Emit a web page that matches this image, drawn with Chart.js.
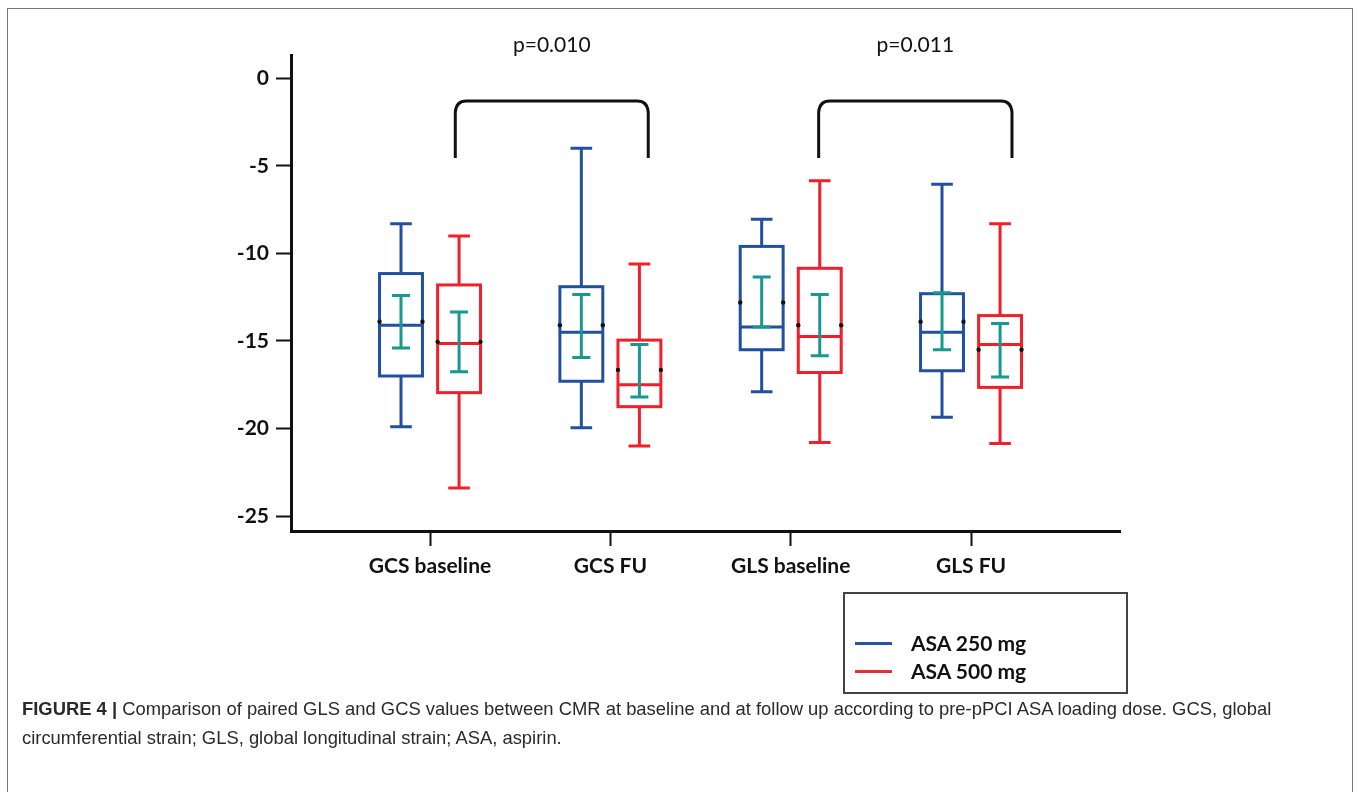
<!DOCTYPE html>
<html>
<head>
<meta charset="utf-8">
<script src="https://cdn.jsdelivr.net/npm/chart.js@4.4.1/dist/chart.umd.min.js"></script>
<style>
  html, body { margin: 0; padding: 0; background: #fff; }
  body { width: 1358px; height: 792px; position: relative; overflow: hidden; }
  #frame { position: absolute; left: 7px; top: 8px; width: 1346px; height: 800px; border: 1.5px solid #777; box-sizing: border-box; }
  #chartWrap { position: absolute; left: 0; top: 0; width: 1358px; height: 792px; }
  #legendBox { position: absolute; left: 843px; top: 592px; width: 285px; height: 102px; border: 2px solid #444; box-sizing: border-box; font-family: Lato, "Open Sans", sans-serif; font-weight: bold; font-size: 21px; color: #111; }
  .legItem { position: absolute; left: 10px; height: 26px; line-height: 26px; }
  .legItem span.line { position: absolute; left: 0; top: 12px; width: 37px; height: 3px; }
  .legItem span.txt { position: absolute; left: 56px; top: 0; white-space: nowrap; }
  #caption { position: absolute; left: 22px; top: 694px; width: 1300px; font-family: "Liberation Sans", Arial, sans-serif; font-size: 18.4px; line-height: 29px; color: #2a2a2a; }
  #caption b { font-weight: bold; }
</style>
</head>
<body>
<div id="frame"></div>
<div id="chartWrap"><canvas id="boxChart" width="1358" height="792"></canvas></div>
<div id="legendBox">
  <div class="legItem" style="top: 36px;"><span class="line" style="background:#2a549f"></span><span class="txt">ASA 250 mg</span></div>
  <div class="legItem" style="top: 64px;"><span class="line" style="background:#e2303a"></span><span class="txt">ASA 500 mg</span></div>
</div>
<div id="caption"><b>FIGURE 4 |</b> Comparison of paired GLS and GCS values between CMR at baseline and at follow up according to pre-pPCI ASA loading dose. GCS, global circumferential strain; GLS, global longitudinal strain; ASA, aspirin.</div>

<script>
const categories = ["GCS baseline", "GCS FU", "GLS baseline", "GLS FU"];
const yTicks = [0, -5, -10, -15, -20, -25];

// ASA 250 mg
const whiskerHigh250 = [-8.3, -4.0, -8.05, -6.05];
const boxTop250 = [-11.15, -11.9, -9.6, -12.3];
const median250 = [-14.1, -14.5, -14.2, -14.5];
const boxBottom250 = [-17.0, -17.3, -15.5, -16.7];
const whiskerLow250 = [-19.9, -19.95, -17.9, -19.35];
const mean250 = [-13.9, -14.1, -12.8, -13.9];
const ciHigh250 = [-12.4, -12.35, -11.35, -12.25];
const ciLow250 = [-15.4, -15.95, -14.2, -15.5];

// ASA 500 mg
const whiskerHigh500 = [-9.0, -10.6, -5.85, -8.3];
const boxTop500 = [-11.8, -14.95, -10.85, -13.55];
const median500 = [-15.15, -17.5, -14.75, -15.2];
const boxBottom500 = [-17.95, -18.75, -16.8, -17.65];
const whiskerLow500 = [-23.4, -21.0, -20.8, -20.85];
const mean500 = [-15.05, -16.65, -14.1, -15.5];
const ciHigh500 = [-13.35, -15.2, -12.35, -14.0];
const ciLow500 = [-16.75, -18.2, -15.85, -17.05];

// significance brackets
const pLabels = ["p=0.010", "p=0.011"];
const bracketFrom = [1.14, 3.155];
const bracketTo = [2.21, 4.227];
const bracketTop = -1.3;
const bracketBottom = -4.55;
const pLabelY = 1.9;

const BLUE = "#22509e";
const RED = "#f0202a";
const TEAL = "#19988f";
const INK = "#111";
const OFFSET = 0.161;
const HALF_BOX = 0.119;
const HALF_CAP = 0.06;
const HALF_CI = 0.05;

const series = [
  { color: BLUE, off: -OFFSET, hi: whiskerHigh250, q3: boxTop250, med: median250, q1: boxBottom250, lo: whiskerLow250, mean: mean250, ciH: ciHigh250, ciL: ciLow250 },
  { color: RED, off: OFFSET, hi: whiskerHigh500, q3: boxTop500, med: median500, q1: boxBottom500, lo: whiskerLow500, mean: mean500, ciH: ciHigh500, ciL: ciLow500 }
];

function meanDots(s) {
  const pts = [];
  s.mean.forEach((m, i) => {
    pts.push({ x: i + 1 + s.off - HALF_BOX, y: m });
    pts.push({ x: i + 1 + s.off + HALF_BOX, y: m });
  });
  return pts;
}

const boxPlotPlugin = {
  id: "boxPlot",
  beforeDatasetsDraw(chart) {
    const ctx = chart.ctx;
    const x = chart.scales.x;
    const y = chart.scales.y;
    ctx.save();
    ctx.lineCap = "butt";
    series.forEach((s) => {
      categories.forEach((c, i) => {
        const cx = x.getPixelForValue(i + 1 + s.off);
        const left = x.getPixelForValue(i + 1 + s.off - HALF_BOX);
        const right = x.getPixelForValue(i + 1 + s.off + HALF_BOX);
        const capL = x.getPixelForValue(i + 1 + s.off - HALF_CAP);
        const capR = x.getPixelForValue(i + 1 + s.off + HALF_CAP);
        const yHi = y.getPixelForValue(s.hi[i]);
        const yQ3 = y.getPixelForValue(s.q3[i]);
        const yMed = y.getPixelForValue(s.med[i]);
        const yQ1 = y.getPixelForValue(s.q1[i]);
        const yLo = y.getPixelForValue(s.lo[i]);
        ctx.strokeStyle = s.color;
        ctx.lineWidth = 3;
        ctx.beginPath();
        // whiskers
        ctx.moveTo(cx, yQ3); ctx.lineTo(cx, yHi);
        ctx.moveTo(capL, yHi); ctx.lineTo(capR, yHi);
        ctx.moveTo(cx, yQ1); ctx.lineTo(cx, yLo);
        ctx.moveTo(capL, yLo); ctx.lineTo(capR, yLo);
        // median
        ctx.moveTo(left, yMed); ctx.lineTo(right, yMed);
        ctx.stroke();
        ctx.strokeRect(left, yQ3, right - left, yQ1 - yQ3);

        // confidence interval of the mean
        const ciL = x.getPixelForValue(i + 1 + s.off - HALF_CI);
        const ciR = x.getPixelForValue(i + 1 + s.off + HALF_CI);
        const yCH = y.getPixelForValue(s.ciH[i]);
        const yCL = y.getPixelForValue(s.ciL[i]);
        ctx.strokeStyle = TEAL;
        ctx.beginPath();
        ctx.moveTo(cx, yCH); ctx.lineTo(cx, yCL);
        ctx.moveTo(ciL, yCH); ctx.lineTo(ciR, yCH);
        ctx.moveTo(ciL, yCL); ctx.lineTo(ciR, yCL);
        ctx.stroke();
      });
    });
    ctx.restore();
  },
  afterDraw(chart) {
    const ctx = chart.ctx;
    const x = chart.scales.x;
    const y = chart.scales.y;
    ctx.save();
    ctx.strokeStyle = INK;
    ctx.lineWidth = 3;
    const yt = y.getPixelForValue(bracketTop);
    const yb = y.getPixelForValue(bracketBottom);
    const r = 11;
    pLabels.forEach((label, i) => {
      const xl = x.getPixelForValue(bracketFrom[i]);
      const xr = x.getPixelForValue(bracketTo[i]);
      ctx.beginPath();
      ctx.moveTo(xl, yb);
      ctx.lineTo(xl, yt + r);
      ctx.quadraticCurveTo(xl + 1, yt, xl + r, yt);
      ctx.lineTo(xr - r, yt);
      ctx.quadraticCurveTo(xr - 1, yt, xr, yt + r);
      ctx.lineTo(xr, yb);
      ctx.stroke();
      ctx.fillStyle = INK;
      ctx.font = "21px Lato";
      ctx.textAlign = "center";
      ctx.textBaseline = "middle";
      ctx.fillText(label, (xl + xr) / 2, y.getPixelForValue(pLabelY));
    });
    ctx.restore();
  }
};

const ctx = document.getElementById("boxChart").getContext("2d");
new Chart(ctx, {
  type: "scatter",
  data: {
    datasets: [
      { label: "ASA 250 mg", data: meanDots(series[0]), pointRadius: 2.2, pointBackgroundColor: INK, pointBorderWidth: 0 },
      { label: "ASA 500 mg", data: meanDots(series[1]), pointRadius: 2.2, pointBackgroundColor: INK, pointBorderWidth: 0 }
    ]
  },
  options: {
    responsive: false,
    animation: false,
    devicePixelRatio: 1,
    layout: { padding: { left: 211, top: 55, right: 238, bottom: 201 } },
    plugins: { legend: { display: false }, tooltip: { enabled: false } },
    scales: {
      x: {
        type: "linear",
        min: 0.229,
        max: 4.826,
        afterBuildTicks: (s) => { s.ticks = categories.map((c, i) => ({ value: i + 1 })); },
        afterFit: (s) => { s.height = 60; },
        ticks: {
          callback: (v, i) => categories[i],
          color: INK,
          font: { family: "Lato", size: 21, weight: "bold" },
          padding: 8,
          maxRotation: 0,
          autoSkip: false
        },
        grid: { drawOnChartArea: false, drawTicks: true, tickLength: 15, tickWidth: 2, tickColor: INK },
        border: { display: true, color: INK, width: 3 }
      },
      y: {
        min: -25.85,
        max: 1.33,
        afterBuildTicks: (s) => { s.ticks = yTicks.map((v) => ({ value: v })); },
        afterFit: (s) => { s.width = 80; },
        ticks: {
          color: INK,
          font: { family: "Lato", size: 21, weight: "bold" },
          padding: 7
        },
        grid: { drawOnChartArea: false, drawTicks: true, tickLength: 15, tickWidth: 2, tickColor: INK },
        border: { display: true, color: INK, width: 3 }
      }
    }
  },
  plugins: [boxPlotPlugin]
});
</script>
</body>
</html>
